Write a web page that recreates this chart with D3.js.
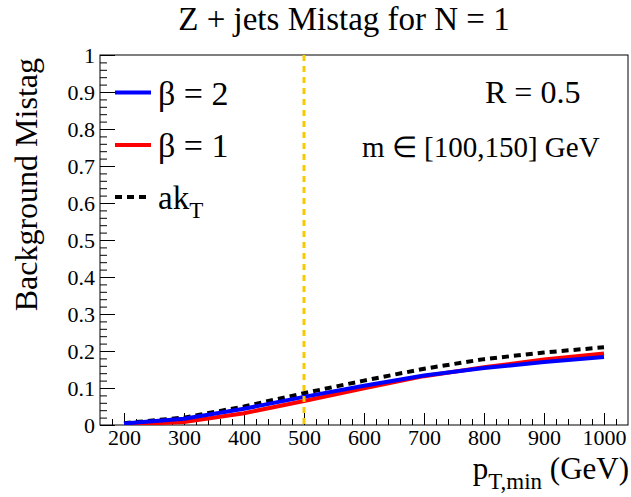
<!DOCTYPE html>
<html>
<head>
<meta charset="utf-8">
<script src="https://cdn.jsdelivr.net/npm/d3@7"></script>
<style>
  html, body { margin: 0; padding: 0; background: #fff; }
  svg { display: block; }
  text { font-family: "Liberation Serif", "Times New Roman", serif; fill: #000; }
</style>
</head>
<body>
<svg id="chart" width="631" height="497"></svg>
<script>
// ---- data ----
const ptMin = [200, 300, 400, 500, 600, 700, 800, 900, 1000];
const beta2 = [0.004, 0.017, 0.044, 0.076, 0.106, 0.134, 0.154, 0.170, 0.184];
const beta1 = [0.001, 0.008, 0.032, 0.065, 0.099, 0.132, 0.156, 0.177, 0.193];
const akT   = [0.005, 0.020, 0.050, 0.086, 0.120, 0.152, 0.178, 0.196, 0.210];
const xTickValues = [200, 300, 400, 500, 600, 700, 800, 900, 1000];
const yTickValues = [0, 0.1, 0.2, 0.3, 0.4, 0.5, 0.6, 0.7, 0.8, 0.9, 1];
const yTickLabels = ["0", "0.1", "0.2", "0.3", "0.4", "0.5", "0.6", "0.7", "0.8", "0.9", "1"];
const cutValue = 500;
const seriesNames = ["β = 2", "β = 1", "ak"];

const svg = d3.select("#chart");
const x = d3.scaleLinear().domain([160, 1040]).range([100, 628]);
const y = d3.scaleLinear().domain([0, 1]).range([425, 55]);

// frame
svg.append("rect")
  .attr("x", x.range()[0]).attr("y", y.range()[1])
  .attr("width", x.range()[1] - x.range()[0])
  .attr("height", y.range()[0] - y.range()[1])
  .attr("fill", "none").attr("stroke", "#000").attr("stroke-width", 1);

// x axis
const xMinor = d3.range(180, 1040, 20).filter(v => v % 100 !== 0);
const xAxisMinor = svg.append("g").attr("transform", `translate(0,${y(0)})`)
  .call(d3.axisBottom(x).tickValues(xMinor).tickSize(-6).tickFormat(""));
const xAxis = svg.append("g").attr("transform", `translate(0,${y(0)})`)
  .call(d3.axisBottom(x).tickValues(xTickValues).tickSize(-12).tickPadding(4).tickFormat(d3.format("d")));
[xAxisMinor, xAxis].forEach(g => {
  g.select(".domain").remove();
  g.selectAll("line").attr("stroke", "#000").attr("stroke-width", 1);
});
xAxis.selectAll("text").attr("font-size", 22).attr("font-family", "Liberation Serif");

// y axis
const yMinor = d3.range(0, 1.0001, 0.02).filter(v => Math.abs(v * 10 - Math.round(v * 10)) > 1e-6);
const yAxisMinor = svg.append("g").attr("transform", `translate(${x.range()[0]},0)`)
  .call(d3.axisLeft(y).tickValues(yMinor).tickSize(-7).tickFormat(""));
const yAxis = svg.append("g").attr("transform", `translate(${x.range()[0]},0)`)
  .call(d3.axisLeft(y).tickValues(yTickValues).tickSize(-15).tickPadding(5)
    .tickFormat((d, i) => yTickLabels[i]));
[yAxisMinor, yAxis].forEach(g => {
  g.select(".domain").remove();
  g.selectAll("line").attr("stroke", "#000").attr("stroke-width", 1);
});
yAxis.selectAll("text").attr("font-size", 22).attr("font-family", "Liberation Serif");

// curves
const line = d3.line().x(d => x(d[0])).y(d => y(d[1]));
const mk = arr => ptMin.map((p, i) => [p, arr[i]]);
const clipId = "plotclip";
svg.append("clipPath").attr("id", clipId).append("rect")
  .attr("x", x.range()[0]).attr("y", y.range()[1])
  .attr("width", x.range()[1] - x.range()[0]).attr("height", y.range()[0] - y.range()[1]);
const plot = svg.append("g").attr("clip-path", `url(#${clipId})`);

plot.append("path").datum(mk(akT)).attr("d", line)
  .attr("fill", "none").attr("stroke", "#000").attr("stroke-width", 4)
  .attr("stroke-dasharray", "7,5");
plot.append("path").datum(mk(beta1)).attr("d", line)
  .attr("fill", "none").attr("stroke", "#ff0000").attr("stroke-width", 4);
plot.append("path").datum(mk(beta2)).attr("d", line)
  .attr("fill", "none").attr("stroke", "#0000ff").attr("stroke-width", 4);

// cut line
plot.append("line")
  .attr("x1", x(cutValue)).attr("x2", x(cutValue))
  .attr("y1", y.range()[1]).attr("y2", y.range()[0])
  .attr("stroke", "#f8c800").attr("stroke-width", 3).attr("stroke-dasharray", "6,5");

// legend
const legend = [
  { name: seriesNames[0], color: "#0000ff", dash: null, ly: 92.5, sub: null },
  { name: seriesNames[1], color: "#ff0000", dash: null, ly: 145, sub: null },
  { name: seriesNames[2], color: "#000", dash: "7,5", ly: 197, sub: "T" }
];
legend.forEach(l => {
  svg.append("line").attr("x1", 115).attr("x2", 151).attr("y1", l.ly).attr("y2", l.ly)
    .attr("stroke", l.color).attr("stroke-width", 4)
    .attr("stroke-dasharray", l.dash);
  const t = svg.append("text").attr("x", 158).attr("y", l.ly + 12)
    .attr("font-size", l.sub ? 33 : 34).text(l.name);
  if (l.sub) t.append("tspan").attr("dy", 9).attr("font-size", 23).text(l.sub);
});

// annotations
svg.append("text").attr("x", 485).attr("y", 103).attr("font-size", 32).text("R = 0.5");
svg.append("text").attr("x", 362).attr("y", 157).attr("font-size", 29).text("m ∈ [100,150] GeV");

// title
svg.append("text").attr("x", 344).attr("y", 30).attr("text-anchor", "middle")
  .attr("font-size", 33).text("Z + jets Mistag for N = 1");

// x title
const xt = svg.append("text").attr("x", 629).attr("y", 479).attr("text-anchor", "end")
  .attr("font-size", 31);
xt.append("tspan").text("p");
xt.append("tspan").attr("dy", 10).attr("font-size", 23).text("T,min");
xt.append("tspan").attr("dy", -10).text(" (GeV)");

// y title
svg.append("text").attr("transform", "translate(37,58) rotate(-90)")
  .attr("text-anchor", "end").attr("font-size", 32).text("Background Mistag");
</script>
</body>
</html>
